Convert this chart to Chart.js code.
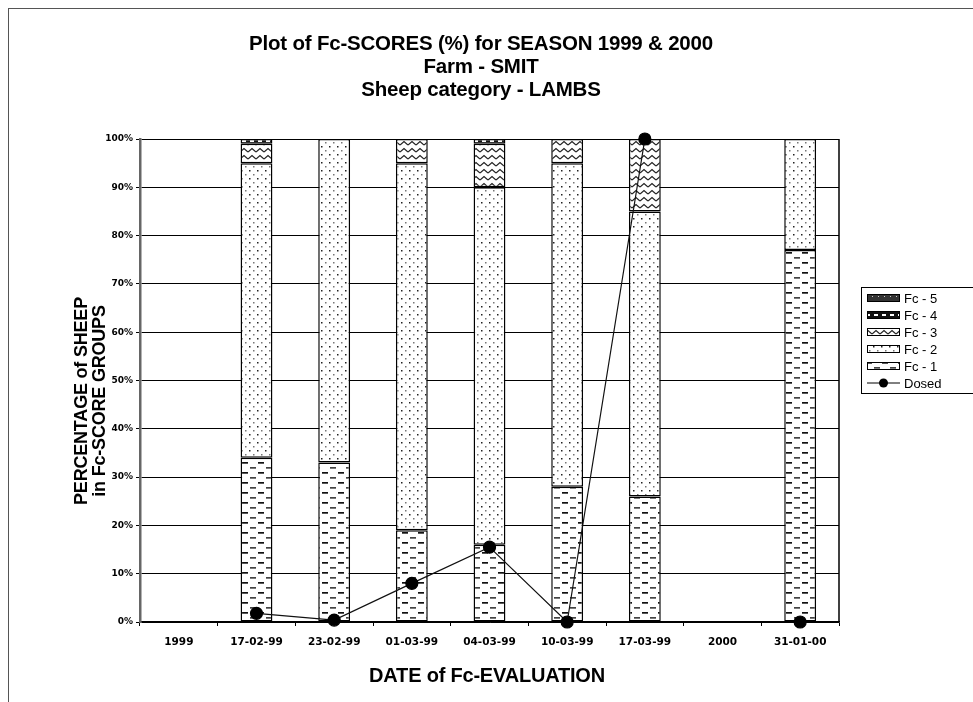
<!DOCTYPE html>
<html>
<head>
<meta charset="utf-8">
<script src="https://cdn.jsdelivr.net/npm/chart.js@4.4.0/dist/chart.umd.min.js"></script>
<style>
  html, body { margin: 0; padding: 0; background: #fff; }
  #wrap { position: relative; width: 973px; height: 702px; overflow: hidden; }
  #frame { position: absolute; left: 8px; top: 8px; width: 2000px; height: 2000px;
           border-left: 1px solid #555; border-top: 1px solid #555; }
  #c { position: absolute; left: 0; top: 0; }
</style>
</head>
<body>
<div id="wrap">
  <div id="frame"></div>
  <canvas id="c" width="973" height="702"></canvas>
</div>
<script>
// data (percent of sheep per score group)
const dates = ['1999', '17-02-99', '23-02-99', '01-03-99', '04-03-99', '10-03-99', '17-03-99', '2000', '31-01-00'];
const fc1 = [null, 34, 33, 19, 16, 28, 26, null, 77];
const fc2 = [null, 61, 67, 76, 74, 67, 59, null, 23];
const fc3 = [null, 4, null, 5, 9, 5, 15, null, null];
const fc4 = [null, 1, null, null, 1, null, null, null, null];
const fc5 = [null, null, null, null, null, null, null, null, null];
const dosed = [null, 1.8, 0.4, 8, 15.5, 0, 100, null, 0];
const yTicks = [0, 10, 20, 30, 40, 50, 60, 70, 80, 90, 100];

const titleLines = ['Plot of Fc-SCORES (%) for SEASON 1999 & 2000', 'Farm - SMIT', 'Sheep category - LAMBS'];
const yTitle = ['PERCENTAGE of SHEEP', 'in Fc-SCORE GROUPS'];
const xTitle = 'DATE of Fc-EVALUATION';
const legendNames = ['Fc - 5', 'Fc - 4', 'Fc - 3', 'Fc - 2', 'Fc - 1', 'Dosed'];

// hatch fills like the old excel patterns
function makePattern(w, h, bg, draw) {
    const c = document.createElement('canvas');
    c.width = w; c.height = h;
    const g = c.getContext('2d');
    g.fillStyle = bg;
    g.fillRect(0, 0, w, h);
    draw(g);
    return g.createPattern(c, 'repeat');
}

const patDash = makePattern(16, 10, '#fff', g => {
    g.fillStyle = '#111';
    g.fillRect(2, 2, 6, 1.7);
    g.fillStyle = '#444';
    g.fillRect(10, 7, 6, 1.7);
});
const patDots = makePattern(8, 8, '#fff', g => {
    g.fillStyle = '#222';
    g.fillRect(1, 2, 1.5, 1.5);
    g.fillStyle = '#777';
    g.fillRect(5, 6, 1.5, 1.5);
});
const patZig = makePattern(8, 7, '#fff', g => {
    g.strokeStyle = '#222';
    g.lineWidth = 1.2;
    g.beginPath();
    g.moveTo(0, 5); g.lineTo(4, 1.5); g.lineTo(8, 5);
    g.stroke();
});
const patCheck = makePattern(8, 6, '#111', g => {
    g.fillStyle = '#fff';
    g.fillRect(2, 2, 4, 2);
});
const patDark = makePattern(6, 6, '#333', g => {
    g.fillStyle = '#ccc';
    g.fillRect(2, 2, 1, 1);
});
const legendFills = [patDark, patCheck, patZig, patDots, patDash];

const barBase = {
    type: 'bar',
    borderColor: '#000',
    borderWidth: 1.5,
    borderSkipped: false,
    categoryPercentage: 1,
    barPercentage: 0.41,
    stack: 'fc',
    order: 1
};

const overlay = {
    id: 'overlay',
    afterDraw(chart) {
        const ctx = chart.ctx;
        const a = chart.chartArea;
        ctx.save();
        // right edge of the plot box
        ctx.strokeStyle = '#000';
        ctx.lineWidth = 1.5;
        ctx.beginPath();
        ctx.moveTo(a.right, a.top);
        ctx.lineTo(a.right, a.bottom);
        ctx.stroke();

        ctx.fillStyle = '#000';
        ctx.textAlign = 'center';
        ctx.textBaseline = 'middle';
        ctx.font = 'bold 20.5px "Liberation Sans", Arial, sans-serif';
        ctx.letterSpacing = '-0.2px';
        titleLines.forEach((t, i) => ctx.fillText(t, 481, 44 + i * 23));

        ctx.font = 'bold 18px "Liberation Sans", Arial, sans-serif';
        ctx.save();
        ctx.translate(91, 401);
        ctx.rotate(-Math.PI / 2);
        ctx.fillText(yTitle[0], 0, -9);
        ctx.fillText(yTitle[1], 0, 9);
        ctx.restore();

        ctx.font = 'bold 20px "Liberation Sans", Arial, sans-serif';
        ctx.fillText(xTitle, 487, 676);
        ctx.letterSpacing = '0px';

        // legend box
        const lx = 861, ly = 287;
        ctx.strokeStyle = '#000';
        ctx.lineWidth = 1;
        ctx.strokeRect(lx + 0.5, ly + 0.5, 200, 106);
        ctx.font = '13px "Liberation Sans", Arial, sans-serif';
        ctx.textAlign = 'left';
        legendNames.forEach((name, i) => {
            const cy = ly + 11 + i * 17;
            if (i < 5) {
                ctx.fillStyle = legendFills[i];
                ctx.fillRect(867, cy - 4, 33, 8);
                ctx.strokeRect(867.5, cy - 3.5, 32, 7);
            } else {
                ctx.beginPath();
                ctx.moveTo(867, cy); ctx.lineTo(900, cy);
                ctx.stroke();
                ctx.beginPath();
                ctx.arc(883.5, cy, 4.5, 0, Math.PI * 2);
                ctx.fillStyle = '#000';
                ctx.fill();
            }
            ctx.fillStyle = '#000';
            ctx.fillText(name, 904, cy + 1);
        });
        ctx.restore();
    }
};

new Chart(document.getElementById('c'), {
    data: {
        labels: dates,
        datasets: [
            { ...barBase, label: 'Fc - 1', data: fc1, backgroundColor: patDash },
            { ...barBase, label: 'Fc - 2', data: fc2, backgroundColor: patDots },
            { ...barBase, label: 'Fc - 3', data: fc3, backgroundColor: patZig },
            { ...barBase, label: 'Fc - 4', data: fc4, backgroundColor: patCheck },
            { ...barBase, label: 'Fc - 5', data: fc5, backgroundColor: patDark },
            {
                type: 'line',
                label: 'Dosed',
                data: dosed,
                stack: 'dosed',
                order: 0,
                borderColor: '#111',
                borderWidth: 1.2,
                pointRadius: 6,
                pointBackgroundColor: '#000',
                pointBorderColor: '#000',
                spanGaps: false,
                clip: false
            }
        ]
    },
    options: {
        responsive: false,
        animation: false,
        devicePixelRatio: 1,
        layout: { padding: { left: 95, top: 139, right: 134, bottom: 50 } },
        plugins: { legend: { display: false }, tooltip: { enabled: false }, title: { display: false } },
        scales: {
            x: {
                stacked: true,
                afterFit: s => { s.height = 30; },
                grid: { drawOnChartArea: false, color: '#000', tickLength: 4, offset: true },
                border: { color: '#000', width: 1.5 },
                ticks: { color: '#000', padding: 10, maxRotation: 0, font: { family: 'DejaVu Sans', size: 10.5, weight: 'bold' } }
            },
            y: {
                stacked: true,
                min: 0,
                max: 100,
                afterFit: s => { s.width = 45; },
                afterBuildTicks: s => { s.ticks = yTicks.map(v => ({ value: v })); },
                grid: { color: '#000', lineWidth: 1, tickLength: 4 },
                border: { color: '#666', width: 2.5 },
                ticks: { color: '#000', padding: 3, font: { family: 'DejaVu Sans', size: 9, weight: 'bold' }, callback: v => v + '%' }
            }
        }
    },
    plugins: [overlay]
});
</script>
</body>
</html>
